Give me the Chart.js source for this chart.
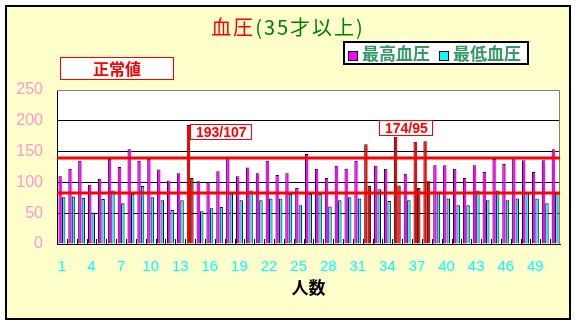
<!DOCTYPE html>
<html>
<head>
<meta charset="utf-8">
<script src="https://cdn.jsdelivr.net/npm/chart.js@4.4.1/dist/chart.umd.min.js"></script>
<style>
  body { margin: 0; background: #fff; }
  #wrap { position: relative; width: 575px; height: 324px; overflow: hidden; }
  #frame { position: absolute; left: 5px; top: 5px; width: 566px; height: 315px;
           box-sizing: border-box; border: 2px solid #000; background: #FFFFCC; }
  canvas { position: absolute; left: 0; top: 0; }
  .jp { font-family: "Noto Sans CJK JP", sans-serif; }
  #title { position: absolute; left: 0; top: 16px; width: 576px; text-align: center;
           font-size: 20px; line-height: 22px; letter-spacing: 2px; color: #008000; }
  #title .red { color: #FF0000; }
  #legend { position: absolute; left: 343px; top: 41px; width: 186px; height: 24px;
            box-sizing: border-box; border: 2px solid #000; background: #fff;
            font-size: 17px; font-weight: bold; color: #339966; line-height: 20px; white-space: nowrap; }
  #legend span.sw { display: inline-block; width: 10px; height: 10px; box-sizing: border-box;
                    border: 1px solid #000; vertical-align: -1px; margin: 0 4px 0 3px; }
  #legend span.tx { letter-spacing: 0px; margin-right: 6px; }
  #normal { position: absolute; left: 60px; top: 57px; width: 114px; height: 23px;
            box-sizing: border-box; border: 1px solid #FF0000; background: #fff;
            color: #FF0000; font-size: 16px; font-weight: bold; text-align: center; line-height: 20px; }
</style>
</head>
<body>
<div id="wrap">
  <div id="frame"></div>
  <canvas id="chart" width="575" height="324"></canvas>
  <div id="title" class="jp"><span class="red">血圧</span>(35才以上)</div>
  <div id="legend" class="jp"></div>
  <div id="normal" class="jp">正常値</div>
</div>
<script>
// 人数 1..51
const cats = Array.from({ length: 51 }, (_, i) => String(i + 1));

// 最高血圧
const systolic = [110, 122, 135, 96, 106, 138, 125, 154, 135, 138,
                  121, 103, 115, 193, 102, 100, 118, 139, 110, 124,
                  115, 135, 112, 115, 91, 146, 122, 107, 127, 122,
                  135, 162, 127, 122, 174, 114, 166, 167, 128, 128,
                  122, 107, 128, 117, 138, 130, 141, 136, 117, 136, 154];

// 最低血圧
const diastolic = [76, 77, 75, 51, 73, 87, 66, 81, 94, 76,
                   71, 55, 71, 107, 53, 58, 60, 82, 71, 87,
                   71, 74, 74, 81, 63, 81, 81, 61, 71, 76,
                   74, 94, 89, 70, 95, 71, 91, 102, 84, 74,
                   63, 63, 87, 71, 87, 71, 74, 84, 74, 66, 82];

const seriesNames = ["最高血圧", "最低血圧"];
const yTicks = [0, 50, 100, 150, 200, 250];
const normalLines = [140, 82];      // 正常値 の線
const highLimit = 160;              // これ以上は赤
const labelled = [13, 34];          // 値を表示する人 (0始まり)

// label box placement relative to the top of the 最高血圧 bar
const labelPlace = [{ dx: 2, dy: -1, anchor: "top" }, { dx: -17, dy: -1, anchor: "bottom" }];

const colMax = "#FF00FF";
const colMin = "#00FFFF";
const colHigh = "#FF0000";

const maxColors = systolic.map(v => v >= highLimit ? colHigh : colMax);
const minColors = systolic.map(v => v >= highLimit ? colHigh : colMin);

// legend
const legendEl = document.getElementById("legend");
[colMax, colMin].forEach((c, i) => {
  legendEl.innerHTML += '<span class="sw" style="background:' + c + '"></span><span class="tx">' + seriesNames[i] + '</span>';
});

const plotFrame = {
  id: "plotFrame",
  beforeDraw(chart) {
    const { ctx, chartArea: a } = chart;
    ctx.save();
    ctx.fillStyle = "#fff";
    ctx.fillRect(a.left, a.top, a.right - a.left, a.bottom - a.top);
    ctx.restore();
  },
  afterDatasetsDraw(chart) {
    const { ctx, chartArea: a, scales: { x, y } } = chart;
    ctx.save();
    // gray top / right edge
    ctx.strokeStyle = "#808080";
    ctx.lineWidth = 1;
    ctx.beginPath();
    ctx.moveTo(a.left, a.top + 0.5);
    ctx.lineTo(a.right - 0.5, a.top + 0.5);
    ctx.lineTo(a.right - 0.5, a.bottom);
    ctx.stroke();
    // small ticks between categories
    ctx.strokeStyle = "#000";
    for (let i = 1; i < cats.length; i++) {
      const px = Math.round((x.getPixelForValue(i - 1) + x.getPixelForValue(i)) / 2) + 0.5;
      ctx.beginPath();
      ctx.moveTo(px, a.bottom);
      ctx.lineTo(px, a.bottom - 5);
      ctx.stroke();
    }
    // 正常値 lines
    ctx.strokeStyle = "#FF0000";
    ctx.lineWidth = 3;
    normalLines.forEach(v => {
      const py = Math.round(y.getPixelForValue(v));
      ctx.beginPath();
      ctx.moveTo(a.left, py);
      ctx.lineTo(a.right, py);
      ctx.stroke();
    });
    // value boxes
    ctx.font = "bold 14px 'Liberation Sans', Arial, sans-serif";
    ctx.textBaseline = "middle";
    ctx.lineWidth = 1;
    const bars = chart.getDatasetMeta(0).data;
    labelled.forEach((idx, k) => {
      const bar = bars[idx];
      const txt = systolic[idx] + "/" + diastolic[idx];
      const w = Math.round(ctx.measureText(txt).width) + 11;
      const h = 16;
      const p = labelPlace[k];
      const left = Math.round(bar.x + p.dx);
      const top = p.anchor === "top" ? Math.round(bar.y + p.dy) : Math.round(bar.y + p.dy - h);
      ctx.fillStyle = "#fff";
      ctx.fillRect(left, top, w, h);
      ctx.strokeStyle = "#FF0000";
      ctx.strokeRect(left + 0.5, top + 0.5, w - 1, h - 1);
      ctx.fillStyle = "#FF0000";
      ctx.fillText(txt, left + 6, top + h / 2 + 1);
    });
    ctx.restore();
  }
};

new Chart(document.getElementById("chart"), {
  type: "bar",
  data: {
    labels: cats,
    datasets: [{
      label: seriesNames[0],
      data: systolic,
      backgroundColor: maxColors,
      borderColor: "#000",
      borderWidth: { top: 1, left: 1, right: 0, bottom: 0 },
      borderSkipped: false,
      categoryPercentage: 0.7,
      barPercentage: 1
    }, {
      label: seriesNames[1],
      data: diastolic,
      backgroundColor: minColors,
      borderColor: "#000",
      borderWidth: { top: 1, left: 1, right: 1, bottom: 0 },
      borderSkipped: false,
      categoryPercentage: 0.7,
      barPercentage: 1
    }]
  },
  options: {
    responsive: false,
    animation: false,
    layout: { padding: { left: 0, right: 15, top: 90, bottom: 22 } },
    plugins: {
      legend: { display: false },
      tooltip: { enabled: false }
    },
    scales: {
      x: {
        grid: { display: false, drawTicks: false },
        border: { display: true, color: "#000", width: 1 },
        ticks: {
          autoSkip: false,
          maxRotation: 0,
          padding: 14,
          color: "#00FFFF",
          font: { family: "'Liberation Sans', Arial, sans-serif", size: 15 },
          callback: (v, i) => i % 3 === 0 ? cats[i] : ""
        },
        title: {
          display: true,
          text: "人数",
          color: "#000",
          font: { family: "'Noto Sans CJK JP', sans-serif", size: 17, weight: "bold" }
        },
        afterFit(scale) { scale.height = 58; }
      },
      y: {
        min: 0,
        max: 250,
        afterBuildTicks(scale) { scale.ticks = yTicks.map(v => ({ value: v })); },
        grid: {
          drawTicks: false,
          color: c => c.tick && c.tick.value === 250 ? "#808080" : "#000"
        },
        border: { display: true, color: "#000", width: 1 },
        ticks: {
          padding: 14,
          color: "#FF99CC",
          font: { family: "'Liberation Sans', Arial, sans-serif", size: 16 }
        },
        afterFit(scale) { scale.width = 57; }
      }
    }
  },
  plugins: [plotFrame]
});
</script>
</body>
</html>
